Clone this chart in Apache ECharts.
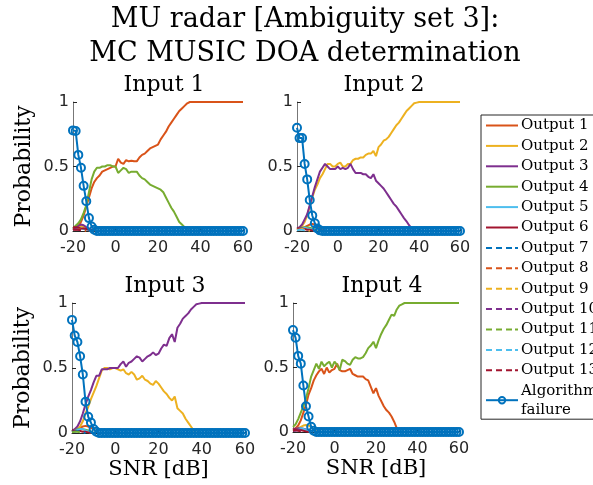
<!DOCTYPE html>
<html>
<head>
<meta charset="utf-8">
<script src="https://cdn.jsdelivr.net/npm/echarts@6/dist/echarts.min.js"></script>
<style>
    html, body { margin: 0; padding: 0; background: #fff; }
    #chart { width: 593px; height: 485px; }
</style>
</head>
<body>
<div id="chart"></div>
<script>
// SNR grid [dB]
var snr = [-20, -18.75, -17.5, -16.25, -15, -13.75, -12.5, -11.25, -10, -8.75, -7.5, -6.25, -5, -3.75, -2.5, -1.25,
    0, 1.25, 2.5, 3.75, 5, 6.25, 7.5, 8.75, 10, 11.25, 12.5, 13.75, 15, 16.25, 17.5, 18.75,
    20, 21.25, 22.5, 23.75, 25, 26.25, 27.5, 28.75, 30, 31.25, 32.5, 33.75, 35, 36.25, 37.5, 38.75,
    40, 41.25, 42.5, 43.75, 45, 46.25, 47.5, 48.75, 50, 51.25, 52.5, 53.75, 55, 56.25, 57.5, 58.75, 60];

var outputNames = ['Output 1', 'Output 2', 'Output 3', 'Output 4', 'Output 5', 'Output 6', 'Output 7',
    'Output 8', 'Output 9', 'Output 10', 'Output 11', 'Output 12', 'Output 13'];
var failureName = 'Algorithm failure';
var inputTitles = ['Input 1', 'Input 2', 'Input 3', 'Input 4'];
var xTicks = [-20, 0, 20, 40, 60];
var yTicks = [0, 0.5, 1];

// Input 1
var in1_out1 = [0.01, 0.02, 0.04, 0.07, 0.12, 0.19, 0.26, 0.33, 0.38, 0.41, 0.43, 0.46, 0.47, 0.48, 0.49, 0.5,
    0.5, 0.56, 0.53, 0.52, 0.55, 0.54, 0.545, 0.54, 0.54, 0.57, 0.59, 0.6, 0.62, 0.64, 0.65, 0.66,
    0.67, 0.71, 0.74, 0.77, 0.81, 0.84, 0.87, 0.9, 0.93, 0.95, 0.97, 0.99, 1, 1, 1, 1,
    1, 1, 1, 1, 1, 1, 1, 1, 1, 1, 1, 1, 1, 1, 1, 1, 1];
var in1_out4 = [0.02, 0.04, 0.06, 0.09, 0.14, 0.2, 0.3, 0.4, 0.46, 0.49, 0.49, 0.5, 0.5, 0.51, 0.51, 0.5,
    0.5, 0.45, 0.47, 0.49, 0.48, 0.45, 0.46, 0.46, 0.46, 0.43, 0.41, 0.4, 0.38, 0.36, 0.35, 0.34,
    0.33, 0.32, 0.3, 0.26, 0.22, 0.18, 0.15, 0.11, 0.07, 0.05, 0.03, 0.005, 0, 0, 0, 0,
    0, 0, 0, 0, 0, 0, 0, 0, 0, 0, 0, 0, 0, 0, 0, 0, 0];
var in1_fail = [0.78, 0.775, 0.59, 0.49, 0.35, 0.23, 0.1, 0.035, 0.01, 0, 0, 0, 0, 0, 0, 0,
    0, 0, 0, 0, 0, 0, 0, 0, 0, 0, 0, 0, 0, 0, 0, 0,
    0, 0, 0, 0, 0, 0, 0, 0, 0, 0, 0, 0, 0, 0, 0, 0,
    0, 0, 0, 0, 0, 0, 0, 0, 0, 0, 0, 0, 0, 0, 0, 0, 0];
// low-SNR values of the minor outputs (zero afterwards, under the failure curve)
var in1_minor = {
    'Output 2': [0.01, 0.02, 0.03, 0.04, 0.03, 0.02, 0.01, 0.005, 0],
    'Output 3': [0.02, 0.03, 0.04, 0.05, 0.045, 0.03, 0.02, 0.01, 0],
    'Output 5': [0.01, 0.015, 0.02, 0.02, 0.015, 0.01, 0.005, 0],
    'Output 6': [0.03, 0.03, 0.025, 0.02, 0.02, 0.015, 0.01, 0.005, 0],
    'Output 8': [0.01, 0.01, 0.015, 0.01, 0.005, 0],
    'Output 10': [0.01, 0.015, 0.01, 0.005, 0],
    'Output 13': [0.015, 0.01, 0.01, 0.005, 0]
};

// Input 2
var in2_out2 = [0.01, 0.02, 0.04, 0.07, 0.12, 0.19, 0.26, 0.32, 0.36, 0.41, 0.44, 0.48, 0.52, 0.52, 0.5, 0.5,
    0.52, 0.53, 0.5, 0.5, 0.52, 0.52, 0.55, 0.56, 0.56, 0.57, 0.57, 0.59, 0.6, 0.6, 0.62, 0.58,
    0.65, 0.67, 0.7, 0.71, 0.73, 0.76, 0.79, 0.82, 0.84, 0.87, 0.9, 0.93, 0.95, 0.97, 0.99, 0.995,
    1, 1, 1, 1, 1, 1, 1, 1, 1, 1, 1, 1, 1, 1, 1, 1, 1];
var in2_out3 = [0.02, 0.03, 0.05, 0.09, 0.13, 0.2, 0.27, 0.34, 0.4, 0.46, 0.49, 0.52, 0.5, 0.48, 0.48, 0.48,
    0.5, 0.48, 0.49, 0.48, 0.49, 0.52, 0.48, 0.45, 0.45, 0.45, 0.44, 0.44, 0.42, 0.41, 0.44, 0.39,
    0.37, 0.35, 0.33, 0.3, 0.27, 0.24, 0.21, 0.19, 0.16, 0.13, 0.1, 0.075, 0.045, 0.02, 0.005, 0,
    0, 0, 0, 0, 0, 0, 0, 0, 0, 0, 0, 0, 0, 0, 0, 0, 0];
var in2_fail = [0.8, 0.72, 0.72, 0.52, 0.4, 0.24, 0.12, 0.06, 0.02, 0.005, 0, 0, 0, 0, 0, 0,
    0, 0, 0, 0, 0, 0, 0, 0, 0, 0, 0, 0, 0, 0, 0, 0,
    0, 0, 0, 0, 0, 0, 0, 0, 0, 0, 0, 0, 0, 0, 0, 0,
    0, 0, 0, 0, 0, 0, 0, 0, 0, 0, 0, 0, 0, 0, 0, 0, 0];
var in2_minor = {
    'Output 1': [0.01, 0.015, 0.02, 0.03, 0.04, 0.05, 0.055, 0.05, 0.04, 0.02, 0.005, 0],
    'Output 4': [0.01, 0.02, 0.025, 0.03, 0.03, 0.025, 0.02, 0.01, 0],
    'Output 5': [0.01, 0.01, 0.02, 0.025, 0.02, 0.015, 0.01, 0],
    'Output 6': [0.02, 0.02, 0.02, 0.015, 0.01, 0.01, 0.005, 0],
    'Output 9': [0.01, 0.01, 0.015, 0.01, 0.005, 0],
    'Output 12': [0.005, 0.01, 0.01, 0.005, 0]
};

// Input 3
var in3_out3 = [0.015, 0.03, 0.05, 0.09, 0.15, 0.22, 0.28, 0.33, 0.39, 0.44, 0.44, 0.49, 0.49, 0.49, 0.5, 0.5,
    0.5, 0.5, 0.53, 0.55, 0.51, 0.54, 0.55, 0.57, 0.59, 0.58, 0.55, 0.57, 0.59, 0.6, 0.62, 0.6,
    0.61, 0.65, 0.68, 0.67, 0.73, 0.76, 0.7, 0.81, 0.84, 0.88, 0.9, 0.92, 0.95, 0.97, 0.99, 0.995,
    1, 1, 1, 1, 1, 1, 1, 1, 1, 1, 1, 1, 1, 1, 1, 1, 1];
var in3_out2 = [0.01, 0.015, 0.03, 0.05, 0.09, 0.15, 0.2, 0.26, 0.31, 0.36, 0.42, 0.48, 0.5, 0.5, 0.49, 0.5,
    0.5, 0.49, 0.48, 0.49, 0.46, 0.45, 0.47, 0.45, 0.41, 0.42, 0.44, 0.41, 0.4, 0.38, 0.37, 0.4,
    0.38, 0.35, 0.32, 0.3, 0.27, 0.25, 0.28, 0.19, 0.17, 0.15, 0.11, 0.08, 0.05, 0.02, 0, 0,
    0, 0, 0, 0, 0, 0, 0, 0, 0, 0, 0, 0, 0, 0, 0, 0, 0];
var in3_fail = [0.87, 0.75, 0.7, 0.59, 0.45, 0.24, 0.125, 0.08, 0.03, 0.01, 0, 0, 0, 0, 0, 0,
    0, 0, 0, 0, 0, 0, 0, 0, 0, 0, 0, 0, 0, 0, 0, 0,
    0, 0, 0, 0, 0, 0, 0, 0, 0, 0, 0, 0, 0, 0, 0, 0,
    0, 0, 0, 0, 0, 0, 0, 0, 0, 0, 0, 0, 0, 0, 0, 0, 0];
var in3_minor = {
    'Output 1': [0.01, 0.02, 0.03, 0.04, 0.05, 0.055, 0.05, 0.04, 0.03, 0.01, 0],
    'Output 4': [0.01, 0.02, 0.03, 0.03, 0.03, 0.025, 0.02, 0.01, 0],
    'Output 5': [0.01, 0.02, 0.025, 0.03, 0.03, 0.02, 0.01, 0],
    'Output 6': [0.02, 0.02, 0.015, 0.015, 0.01, 0.01, 0.005, 0],
    'Output 7': [0.01, 0.01, 0.015, 0.01, 0.005, 0],
    'Output 11': [0.005, 0.01, 0.01, 0.005, 0]
};

// Input 4
var in4_out4 = [0.04, 0.06, 0.1, 0.15, 0.2, 0.26, 0.34, 0.43, 0.48, 0.53, 0.49, 0.545, 0.51, 0.53, 0.545, 0.5,
    0.545, 0.52, 0.48, 0.56, 0.55, 0.53, 0.52, 0.56, 0.58, 0.57, 0.57, 0.58, 0.61, 0.65, 0.67, 0.7,
    0.65, 0.71, 0.76, 0.8, 0.83, 0.87, 0.91, 0.9, 0.95, 0.98, 0.99, 1, 1, 1, 1, 1,
    1, 1, 1, 1, 1, 1, 1, 1, 1, 1, 1, 1, 1, 1, 1, 1, 1];
var in4_out1 = [0.02, 0.03, 0.05, 0.09, 0.15, 0.21, 0.29, 0.34, 0.4, 0.44, 0.47, 0.49, 0.45, 0.5, 0.46, 0.48,
    0.49, 0.53, 0.48, 0.47, 0.47, 0.48, 0.49, 0.45, 0.44, 0.43, 0.43, 0.43, 0.41, 0.4, 0.35, 0.3,
    0.34, 0.28, 0.24, 0.2, 0.17, 0.15, 0.12, 0.08, 0.03, 0, 0, 0, 0, 0, 0, 0,
    0, 0, 0, 0, 0, 0, 0, 0, 0, 0, 0, 0, 0, 0, 0, 0, 0];
var in4_fail = [0.79, 0.73, 0.59, 0.53, 0.36, 0.2, 0.12, 0.04, 0.01, 0, 0, 0, 0, 0, 0, 0,
    0, 0, 0, 0, 0, 0, 0, 0, 0, 0, 0, 0, 0, 0, 0, 0,
    0, 0, 0, 0, 0, 0, 0, 0, 0, 0, 0, 0, 0, 0, 0, 0,
    0, 0, 0, 0, 0, 0, 0, 0, 0, 0, 0, 0, 0, 0, 0, 0, 0];
var in4_minor = {
    'Output 2': [0.01, 0.02, 0.03, 0.04, 0.05, 0.055, 0.05, 0.04, 0.02, 0.005, 0],
    'Output 3': [0.02, 0.025, 0.03, 0.03, 0.025, 0.02, 0.01, 0],
    'Output 5': [0.01, 0.015, 0.02, 0.03, 0.025, 0.015, 0.005, 0],
    'Output 6': [0.02, 0.02, 0.02, 0.015, 0.01, 0.005, 0],
    'Output 10': [0.01, 0.01, 0.015, 0.01, 0],
    'Output 13': [0.01, 0.015, 0.01, 0.005, 0]
};

var inputs = [
    { main: { 'Output 1': in1_out1, 'Output 4': in1_out4 }, minor: in1_minor, fail: in1_fail },
    { main: { 'Output 2': in2_out2, 'Output 3': in2_out3 }, minor: in2_minor, fail: in2_fail },
    { main: { 'Output 2': in3_out2, 'Output 3': in3_out3 }, minor: in3_minor, fail: in3_fail },
    { main: { 'Output 1': in4_out1, 'Output 4': in4_out4 }, minor: in4_minor, fail: in4_fail }
];

// MATLAB default colour order, outputs 7-13 repeat it dashed
var colors = ['#D95319', '#EDB120', '#7E2F8E', '#77AC30', '#4DBEEE', '#A2142F', '#0072BD',
    '#D95319', '#EDB120', '#7E2F8E', '#77AC30', '#4DBEEE', '#A2142F'];
var failColor = '#0072BD';

var serif = 'DejaVu Serif';
var sans = 'DejaVu Sans';
var axisColor = '#262626';

var grids = [
    { left: 73, top: 102, width: 170, height: 129 },
    { left: 297, top: 102, width: 163, height: 129 },
    { left: 72, top: 303, width: 173, height: 130 },
    { left: 293, top: 303, width: 166, height: 129 }
];
var titlePos = [[159, 69], [379, 69], [160, 270], [377, 270]];

// legend line samples
var solidIcon = 'path://M0,0H32V2H0Z';
var dashIcon = 'path://M0,0H6V2H0Z M10,0H16V2H10Z M20,0H26V2H20Z M29,0H32V2H29Z';

function toPairs(arr) {
    return arr.map(function (v, i) { return [snr[i], v]; });
}

var xAxes = [], yAxes = [], series = [], titles = [];

titles.push({
    text: 'MU radar [Ambiguity set 3]:\nMC MUSIC DOA determination',
    left: 300, top: -2, textAlign: 'center',
    textStyle: { fontFamily: serif, fontSize: 27, fontWeight: 'normal', color: '#000', lineHeight: 34 }
});

grids.forEach(function (g, k) {
    titles.push({
        text: inputTitles[k], left: titlePos[k][0], top: titlePos[k][1], textAlign: 'center',
        textStyle: { fontFamily: serif, fontSize: 22, fontWeight: 'normal', color: '#000' }
    });
    xAxes.push({
        gridIndex: k, type: 'value', min: xTicks[0], max: xTicks[xTicks.length - 1], interval: 20,
        name: k >= 2 ? 'SNR [dB]' : '', nameLocation: 'middle', nameGap: 26,
        nameTextStyle: { fontFamily: serif, fontSize: 21, color: '#000' },
        axisLine: { show: true, onZero: false, lineStyle: { color: axisColor, width: 1 } },
        axisTick: { show: true, inside: true, length: 4, lineStyle: { color: axisColor } },
        axisLabel: { fontFamily: sans, fontSize: 16, color: axisColor, margin: 9 },
        splitLine: { show: false }
    });
    yAxes.push({
        gridIndex: k, type: 'value', min: yTicks[0], max: yTicks[yTicks.length - 1], interval: 0.5,
        name: k % 2 === 0 ? 'Probability' : '', nameLocation: 'middle', nameGap: 38,
        nameTextStyle: { fontFamily: serif, fontSize: 22, color: '#000' },
        axisLine: { show: true, onZero: false, lineStyle: { color: '#777', width: 1 } },
        axisTick: { show: true, inside: true, length: 4, lineStyle: { color: axisColor } },
        axisLabel: { fontFamily: sans, fontSize: 16, color: axisColor, margin: 4 },
        splitLine: { show: false }
    });

    var inp = inputs[k];
    outputNames.forEach(function (name, j) {
        var arr = inp.main[name] || inp.minor[name] || [0];
        series.push({
            name: name, type: 'line', xAxisIndex: k, yAxisIndex: k,
            data: toPairs(arr), symbol: 'none', clip: true,
            lineStyle: { color: colors[j], width: 2, type: j >= 6 ? 'dashed' : 'solid' },
            itemStyle: { color: colors[j] },
            emphasis: { disabled: true }
        });
    });
    // open circles, no fill, like MATLAB 'o' markers
    series.push({
        name: failureName, type: 'line', xAxisIndex: k, yAxisIndex: k,
        data: toPairs(inp.fail), symbol: 'circle', symbolSize: 8, showAllSymbol: true,
        lineStyle: { color: failColor, width: 2 },
        itemStyle: { color: 'none', borderColor: failColor, borderWidth: 2 },
        emphasis: { disabled: true }, z: 5
    });
});

var legendData = outputNames.map(function (name, j) {
    return { name: name, icon: j >= 6 ? dashIcon : solidIcon };
});
legendData.push({ name: failureName });

var myChart = echarts.init(document.getElementById('chart'));
myChart.setOption({
    animation: false,
    backgroundColor: '#fff',
    title: titles,
    legend: {
        orient: 'vertical', left: 481, top: 115,
        data: legendData,
        itemWidth: 32, itemHeight: 8, itemGap: 1.4,
        padding: [1, 30, 0, 4],
        borderColor: axisColor, borderWidth: 1, backgroundColor: '#fff',
        selectedMode: false,
        formatter: function (name) {
            return name === failureName ? 'Algorithm\nfailure' : name;
        },
        textStyle: { fontFamily: serif, fontSize: 15, color: '#000', lineHeight: 19, padding: [0, 0, 0, -2] }
    },
    grid: grids,
    xAxis: xAxes,
    yAxis: yAxes,
    series: series
});
</script>
</body>
</html>
